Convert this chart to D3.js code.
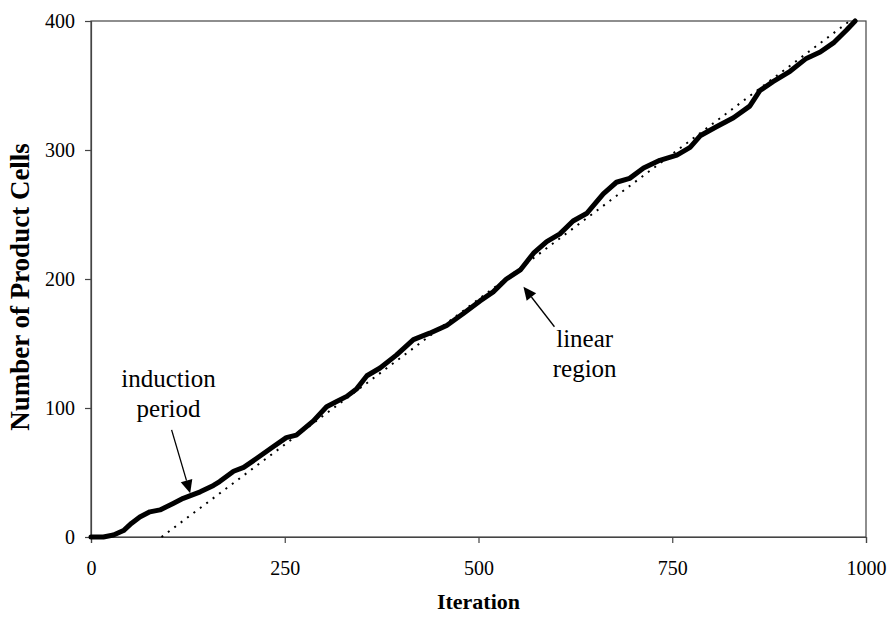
<!DOCTYPE html>
<meta charset="utf-8">
<style>
body { margin: 0; background: #fff; }
text { font-family: "Liberation Serif", "Times New Roman", serif; fill: #000; }
.frame { fill: none; stroke: #444; stroke-width: 1.2px; }
.growth { fill: none; stroke: #000; stroke-width: 5px; stroke-linejoin: round; stroke-linecap: round; }
.fit { fill: none; stroke: #000; stroke-width: 2px; stroke-dasharray: 2,6; }
</style>
<body>
<script src="https://d3js.org/d3.v7.min.js"></script>
<script>

// iterations and product cell counts
var iterations = [0, 16, 29, 42, 52, 63, 76, 89, 106, 119, 141, 158, 166, 184, 197, 214, 235, 252, 265,
  287, 304, 317, 330, 343, 356, 373, 394, 416, 437, 459, 480, 502, 519, 536, 554, 571, 588, 605,
  622, 640, 661, 678, 695, 713, 734, 756, 773, 786, 807, 829, 850, 863, 880, 902, 923, 941, 958, 975, 986];
var cells = [0, 0, 1.5, 5, 10.5, 15.5, 19.5, 21, 26, 30, 35, 40, 43, 51, 54, 61, 70, 77, 79,
  90, 101, 105, 109, 115, 125, 131, 141, 153, 158, 164, 173, 183, 190, 200, 207, 220, 229, 235,
  245, 251, 266, 275, 278, 286, 292, 296, 302, 311, 318, 325, 334, 346, 353, 361, 371, 376, 383, 393, 400];

// dotted linear fit, two end points
var fitIterations = [91, 979];
var fitCells = [0, 400];

var xTicks = [0, 250, 500, 750, 1000];
var yTicks = [0, 100, 200, 300, 400];

var margin = {top: 21, right: 22, bottom: 80, left: 91},
    width = 888 - margin.left - margin.right,
    height = 617 - margin.top - margin.bottom;

var x = d3.scaleLinear().domain([0, 1000]).range([0, width]);
var y = d3.scaleLinear().domain([0, 400]).range([height, 0]);

var svg = d3.select("body").append("svg")
    .attr("width", 888)
    .attr("height", 617)
  .append("g")
    .attr("transform", "translate(" + margin.left + "," + margin.top + ")");

// box around the plot
svg.append("rect")
    .attr("class", "frame")
    .attr("x", 0).attr("y", 0)
    .attr("width", width).attr("height", height);

// axes
var xAxis = svg.append("g")
    .attr("transform", "translate(0," + height + ")")
    .call(d3.axisBottom(x).tickValues(xTicks).tickSize(6).tickPadding(18).tickFormat(d3.format("d")));
var yAxis = svg.append("g")
    .call(d3.axisLeft(y).tickValues(yTicks).tickSize(6).tickPadding(10));

[xAxis, yAxis].forEach(function(a) {
  a.select(".domain").attr("stroke", "#444").attr("stroke-width", 1.2);
  a.selectAll(".tick line").attr("stroke", "#444").attr("stroke-width", 1.2);
  a.selectAll(".tick text")
      .attr("font-family", "Liberation Serif")
      .attr("font-size", "20px")
      .attr("fill", "#000");
});

// curves
var data = iterations.map(function(d, i) { return {it: d, n: cells[i]}; });
var fit = fitIterations.map(function(d, i) { return {it: d, n: fitCells[i]}; });

var line = d3.line()
    .x(function(d) { return x(d.it); })
    .y(function(d) { return y(d.n); });

svg.append("path").datum(fit).attr("class", "fit").attr("d", line);
svg.append("path").datum(data).attr("class", "growth").attr("d", line);

// axis titles
svg.append("text")
    .attr("x", width / 2)
    .attr("y", height + 72)
    .attr("text-anchor", "middle")
    .attr("font-weight", "bold")
    .attr("font-size", "22px")
    .text("Iteration");

svg.append("text")
    .attr("transform", "rotate(-90)")
    .attr("x", -height / 2 - 8)
    .attr("y", -62)
    .attr("text-anchor", "middle")
    .attr("font-weight", "bold")
    .attr("font-size", "27px")
    .text("Number of Product Cells");

// annotations
function arrow(from, to) {
  var dx = x(to[0]) - x(from[0]), dy = y(to[1]) - y(from[1]);
  var len = Math.sqrt(dx * dx + dy * dy), ux = dx / len, uy = dy / len;
  var tx = x(to[0]), ty = y(to[1]);
  var bx = tx - ux * 13, by = ty - uy * 13;
  svg.append("line")
      .attr("x1", x(from[0])).attr("y1", y(from[1]))
      .attr("x2", bx).attr("y2", by)
      .attr("stroke", "#000").attr("stroke-width", 1.3);
  svg.append("path")
      .attr("d", "M" + tx + "," + ty +
                 "L" + (bx - uy * 6) + "," + (by + ux * 6) +
                 "L" + (bx + uy * 6) + "," + (by - ux * 6) + "Z")
      .attr("fill", "#000");
}

function label(lines, cx, cy) {
  var t = svg.append("text")
      .attr("text-anchor", "middle")
      .attr("font-size", "25px");
  lines.forEach(function(s, i) {
    t.append("tspan").attr("x", x(cx)).attr("y", y(cy) + i * 30).text(s);
  });
}

label(["induction", "period"], 100, 116);
arrow([104, 83], [128, 34]);

label(["linear", "region"], 637, 147);
arrow([598, 163], [558, 194]);

</script>
